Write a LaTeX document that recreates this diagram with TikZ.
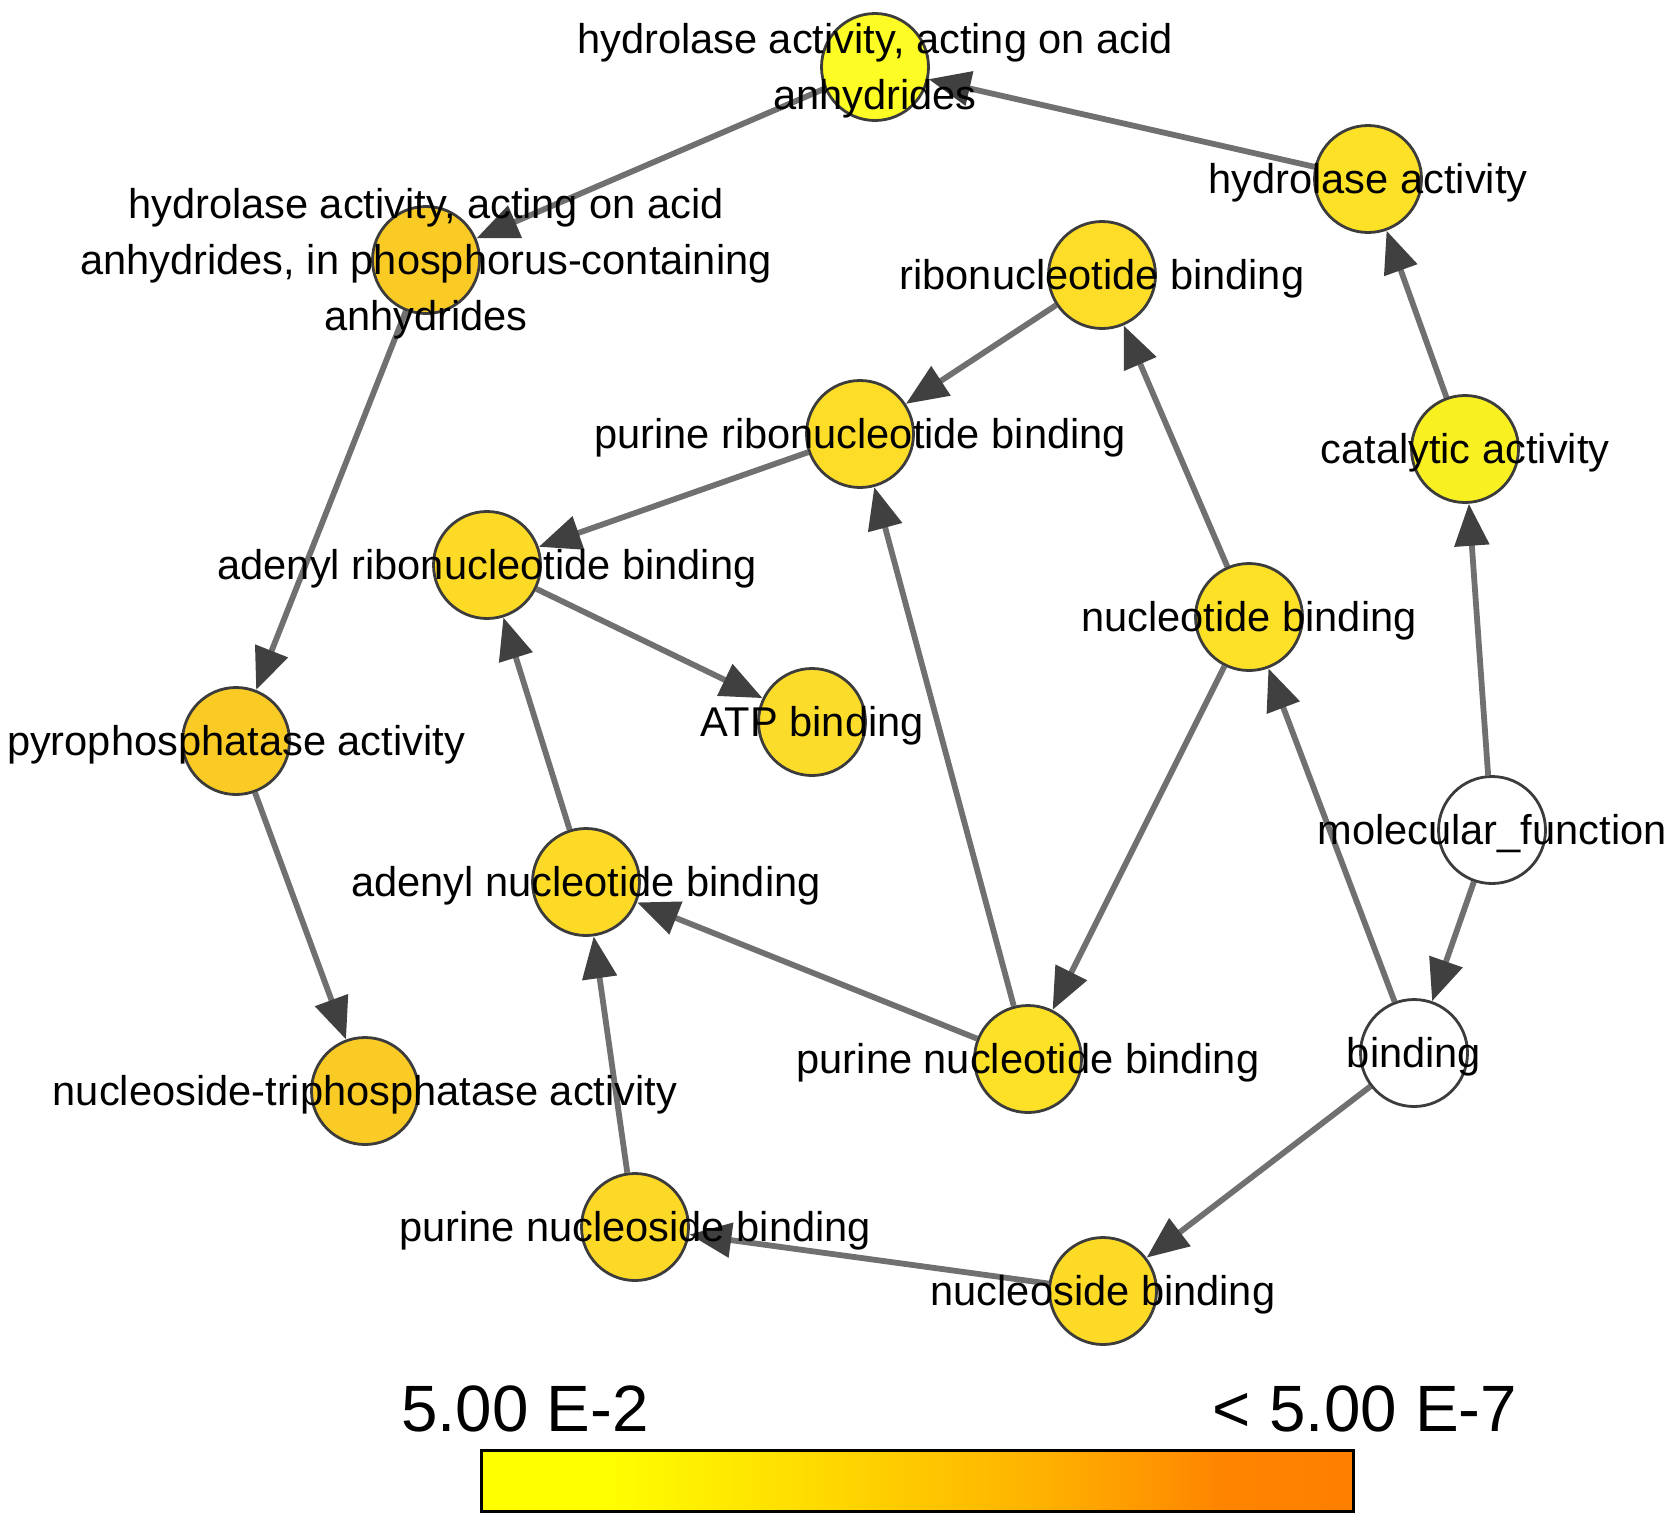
\documentclass[tikz,border=0pt]{standalone}
\usepackage{fontspec}
\setmainfont{Liberation Sans}
\usetikzlibrary{arrows.meta}
\pgfdeclarelayer{background}
\pgfdeclarelayer{foreground}
\pgfsetlayers{background,main,foreground}
\definecolor{edgegray}{HTML}{707070}
\definecolor{tipgray}{HTML}{404040}
\definecolor{bordergray}{HTML}{3C3C3C}
\definecolor{cA}{HTML}{FDFC24}
\definecolor{cB}{HTML}{FCE126}
\definecolor{cC}{HTML}{FBCB25}
\definecolor{cD}{HTML}{FDDD27}
\definecolor{cE}{HTML}{F9F022}
\definecolor{cF}{HTML}{FCDA26}
\definecolor{cG}{HTML}{FCDC2A}
\definecolor{cH}{HTML}{FCD827}
\pgfdeclarehorizontalshading{cbar}{100bp}{color(0bp)=(yellow); color(25bp)=(yellow); color(32bp)=(yellow); color(45bp)=(rgb,255:red,255;green,216;blue,0); color(57.5bp)=(rgb,255:red,255;green,176;blue,0); color(67.5bp)=(rgb,255:red,255;green,133;blue,0); color(75bp)=(rgb,255:red,255;green,127;blue,0); color(100bp)=(rgb,255:red,255;green,127;blue,0)}
\tikzset{
  gonode/.style={circle, draw=bordergray, line width=2.8pt, minimum size=107pt, inner sep=0pt, fill=#1},
  lbl/.style={font=\fontsize{41.6}{56}\selectfont, align=center, text=black, inner sep=0pt, yshift=-4pt},
  rel/.style={draw=edgegray, line width=5.8pt, -{Triangle[length=42pt,width=34pt,color=tipgray]}},
  scalelbl/.style={font=\fontsize{65.5}{70}\selectfont, inner sep=0pt, anchor=base}
}
\begin{document}
\begin{tikzpicture}[x=1pt,y=-1pt]
\useasboundingbox (0,0) rectangle (1677,1526);
% nodes
\node[gonode=cA] (n1) at (875,67) {};
\node[gonode=cB] (n2) at (1368,179) {};
\node[gonode=cC] (n3) at (426,260) {};
\node[gonode=cD] (n4) at (1102,275) {};
\node[gonode=cD] (n5) at (860,434) {};
\node[gonode=cE] (n6) at (1465,449) {};
\node[gonode=cF] (n7) at (487,565) {};
\node[gonode=cB] (n8) at (1249,617) {};
\node[gonode=cG] (n9) at (812,722) {};
\node[gonode=cC] (n10) at (236,741) {};
\node[gonode=white] (n11) at (1492,830) {};
\node[gonode=cF] (n12) at (586,882) {};
\node[gonode=cB] (n13) at (1028,1059) {};
\node[gonode=white] (n14) at (1414,1053) {};
\node[gonode=cC] (n15) at (365,1091) {};
\node[gonode=cH] (n16) at (635,1227) {};
\node[gonode=cF] (n17) at (1103,1291) {};
% edges
\begin{pgfonlayer}{background}
\draw[rel] (n2) -- (n1);
\draw[rel] (n1) -- (n3);
\draw[rel] (n3) -- (n10);
\draw[rel] (n10) -- (n15);
\draw[rel] (n6) -- (n2);
\draw[rel] (n11) -- (n6);
\draw[rel] (n11) -- (n14);
\draw[rel] (n14) -- (n8);
\draw[rel] (n14) -- (n17);
\draw[rel] (n8) -- (n4);
\draw[rel] (n8) -- (n13);
\draw[rel] (n4) -- (n5);
\draw[rel] (n13) -- (n5);
\draw[rel] (n13) -- (n12);
\draw[rel] (n5) -- (n7);
\draw[rel] (n12) -- (n7);
\draw[rel] (n7) -- (n9);
\draw[rel] (n16) -- (n12);
\draw[rel] (n17) -- (n16);
\end{pgfonlayer}
% labels
\begin{pgfonlayer}{foreground}
\node[lbl] (l1) at (n1) {hydrolase activity, acting on acid\\anhydrides};
\node[lbl] (l2) at (n2) {hydrolase activity};
\node[lbl] (l3) at (n3) {hydrolase activity, acting on acid\\anhydrides, in phosphorus-containing\\anhydrides};
\node[lbl] (l4) at (n4) {ribonucleotide binding};
\node[lbl] (l5) at (n5) {purine ribonucleotide binding};
\node[lbl] (l6) at (n6) {catalytic activity};
\node[lbl] (l7) at (n7) {adenyl ribonucleotide binding};
\node[lbl] (l8) at (n8) {nucleotide binding};
\node[lbl] (l9) at (n9) {ATP binding};
\node[lbl] (l10) at (n10) {pyrophosphatase activity};
\node[lbl] (l11) at (n11) {molecular\_function};
\node[lbl] (l12) at (n12) {adenyl nucleotide binding};
\node[lbl] (l13) at (n13) {purine nucleotide binding};
\node[lbl] (l14) at (n14) {binding};
\node[lbl] (l15) at (n15) {nucleoside-triphosphatase activity};
\node[lbl] (l16) at (n16) {purine nucleoside binding};
\node[lbl] (l17) at (n17) {nucleoside binding};
\end{pgfonlayer}
% colour scale
\path[shading=cbar, draw=black, line width=3pt] (481,1450) rectangle (1353,1511);
\node[scalelbl] (s1) at (525,1431) {5.00 E-2};
\node[scalelbl] (s2) at (1365,1431) {< 5.00 E-7};
\end{tikzpicture}
\end{document}
